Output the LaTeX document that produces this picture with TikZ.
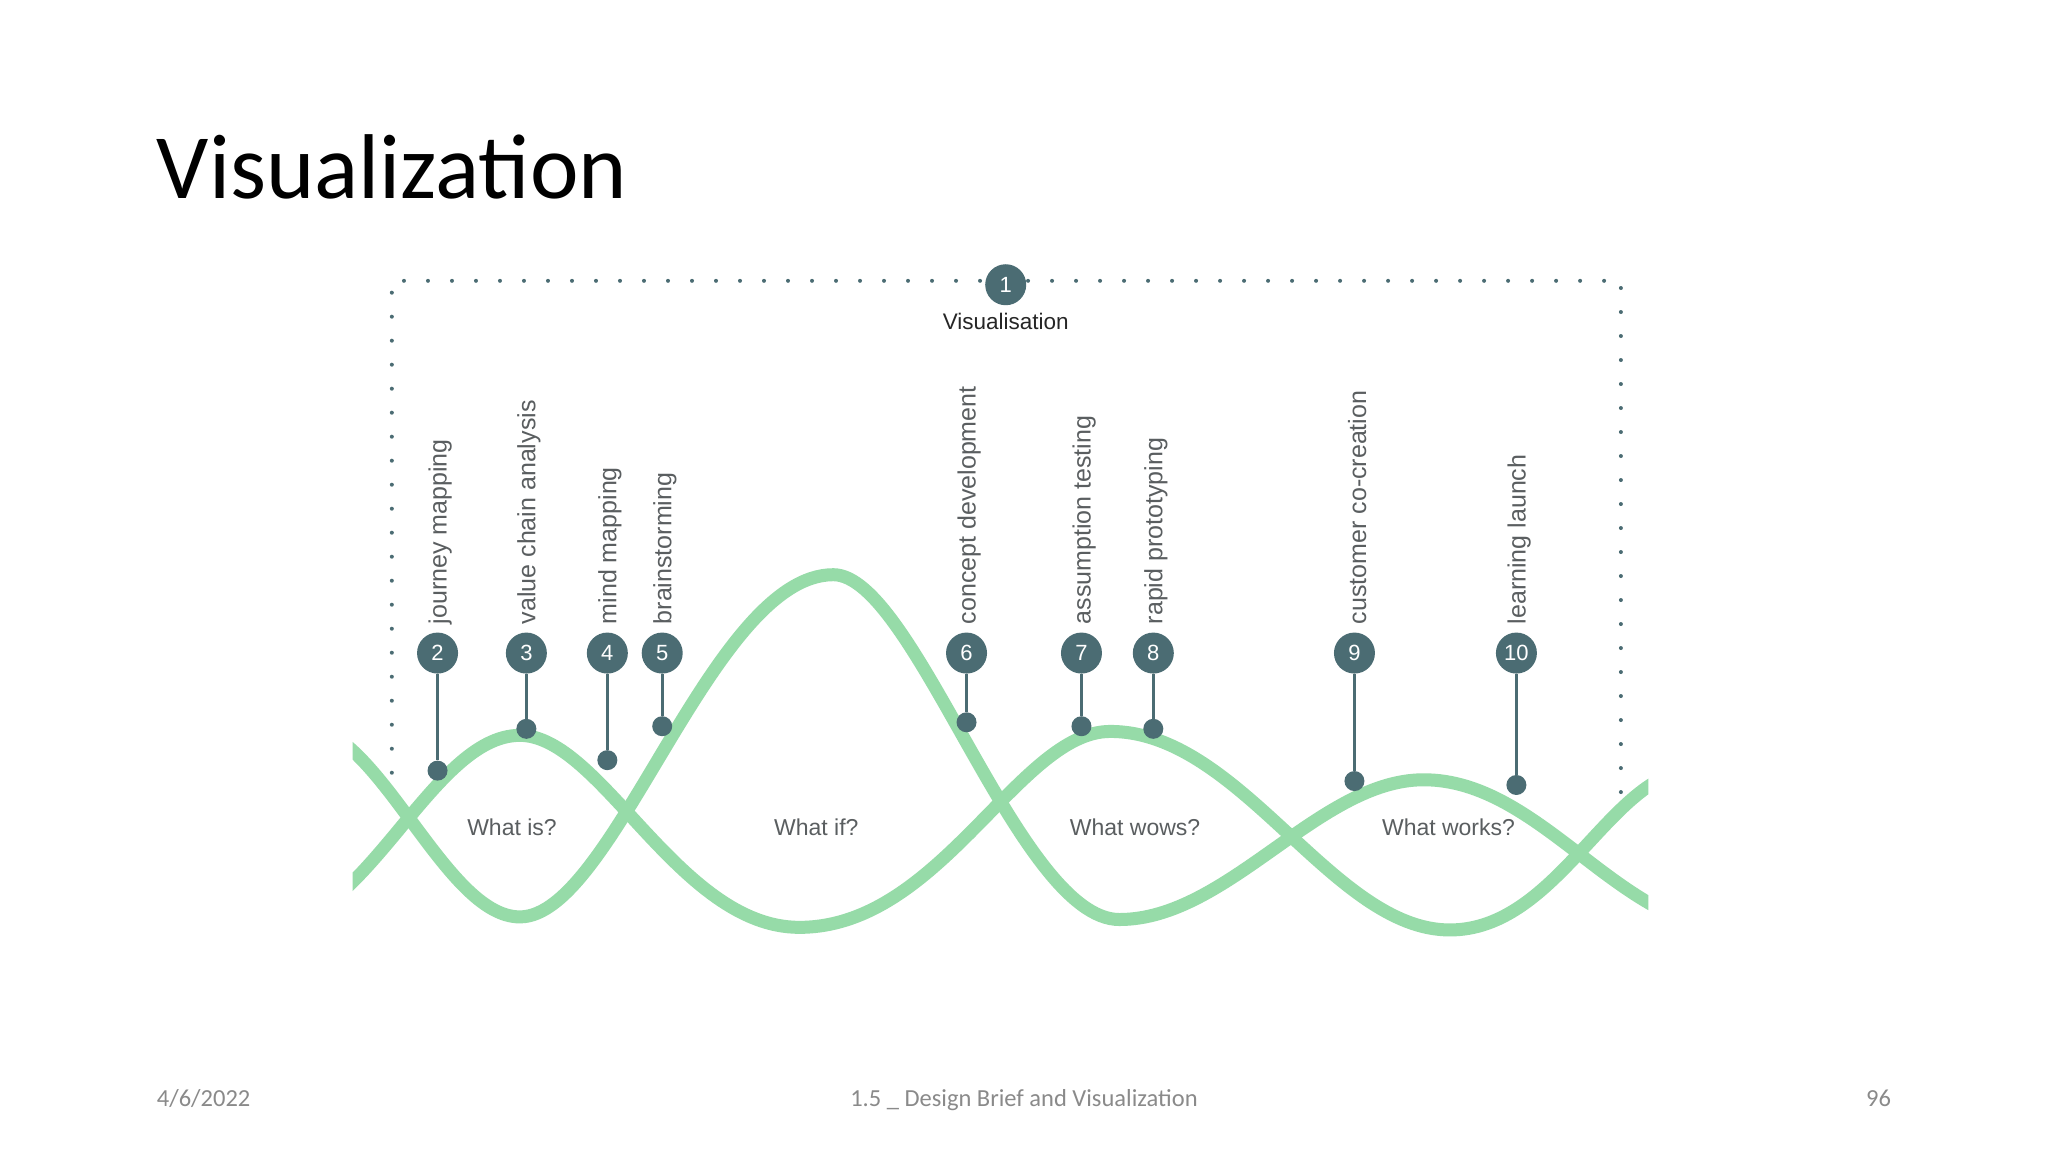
\documentclass[tikz,border=0pt]{standalone}
\usepackage{fontspec}
\setmainfont{Liberation Sans}
\newfontfamily\calib{Carlito}
\definecolor{wave}{HTML}{96DBA8}
\definecolor{teal}{HTML}{4B6C73}
\definecolor{lbl}{HTML}{5A5E60}
\definecolor{foot}{HTML}{8A8A8A}
\begin{document}
\begin{tikzpicture}[x=1.306pt,y=-1.306pt,
  num/.style={circle,fill=teal,text=white,minimum size=41pt,inner sep=0pt,font=\fontsize{22}{24}\selectfont},
  pin/.style={circle,fill=teal,minimum size=20pt,inner sep=0pt},
  lab/.style={rotate=90,anchor=west,text=lbl,font=\fontsize{25}{28}\selectfont,inner sep=0pt},
  stem/.style={teal,line width=2.6pt},
  wv/.style={wave,line width=13pt,line cap=round}]
\fill[white] (0,0) rectangle (1568,882);
\useasboundingbox (0,0) rectangle (1568,882);
\node[anchor=base west,inner sep=0pt,font=\calib\fontsize{92}{100}\selectfont] (title) at (120,152) {Visualization};
% dotted frame
\draw[teal,line width=4pt,line cap=round,dash pattern=on 0pt off 24pt] (300,610) -- (300,215) -- (1241,215) -- (1241,610);
% waves
\begin{scope}
\clip (270,380) rectangle (1262,730);
\draw[wv] (230,555) .. controls (290,555) and (340,702) .. (398,702)
  .. controls (470,702) and (545,440) .. (638,440)
  .. controls (700,440) and (780,704) .. (857,704)
  .. controls (940,704) and (1010,597) .. (1090,597)
  .. controls (1180,597) and (1240,712) .. (1330,712);
\draw[wv] (200,712) .. controls (280,712) and (330,563) .. (398,563)
  .. controls (460,563) and (520,710) .. (612,710)
  .. controls (720,710) and (780,560) .. (850,560)
  .. controls (950,560) and (1020,712) .. (1110,712)
  .. controls (1190,712) and (1230,600) .. (1290,590);
\end{scope}
\node[num] (c1) at (770,218) {1};
\node[font=\fontsize{22.5}{24}\selectfont,text=black!85] (vis) at (770,246) {Visualisation};
\foreach \n/\x/\y/\t in {2/335/590/journey mapping,3/403/558/value chain analysis,4/465/582/mind mapping,5/507/556/brainstorming,6/740/553/concept development,7/828/556/assumption testing,8/883/558/rapid prototyping,9/1037/598/customer co-creation,10/1161/601/learning launch}{
  \node[num] (c\n) at (\x,500) {\n};
  \node[pin] (d\n) at (\x,\y) {};
  \draw[stem] (c\n) -- (d\n);
  \node[lab] (l\n) at (\x+2,478) {\t};
}
\foreach \t/\x/\nm in {What is?/392/w1,What if?/625/w2,What wows?/869/w3,What works?/1109/w4}
  \node[text=lbl,font=\fontsize{23}{25}\selectfont] (\nm) at (\x,633) {\t};
% footer
\node[anchor=base west,inner sep=0pt,text=foot,font=\calib\fontsize{24.5}{26}\selectfont] (f1) at (120,847) {4/6/2022};
\node[anchor=base,inner sep=0pt,text=foot,font=\calib\fontsize{24.5}{26}\selectfont] (f2) at (784,847) {1.5 \_ Design Brief and Visualization};
\node[anchor=base east,inner sep=0pt,text=foot,font=\calib\fontsize{24.5}{26}\selectfont] (f3) at (1448,847) {96};
\end{tikzpicture}
\end{document}
